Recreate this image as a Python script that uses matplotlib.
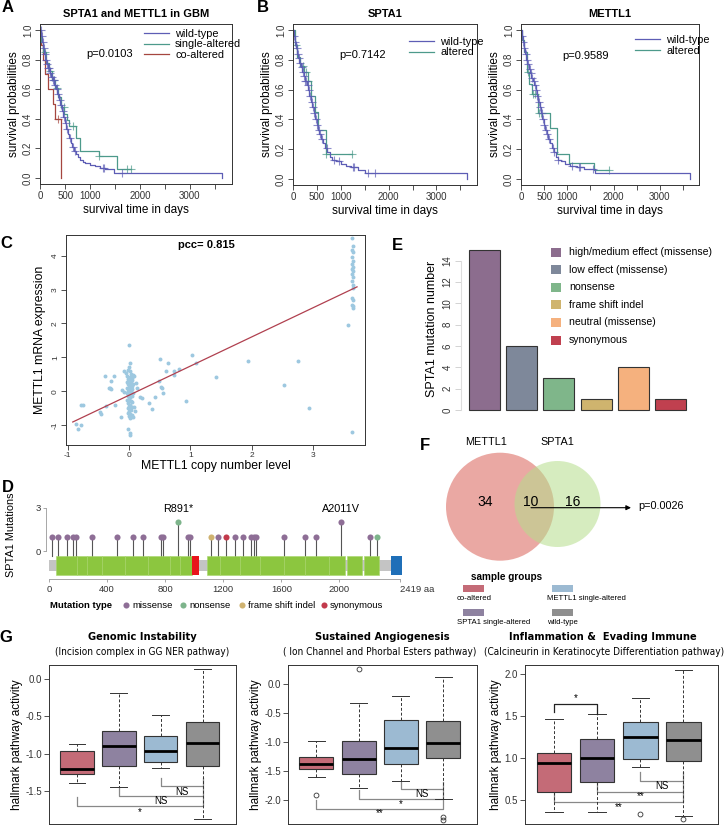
import matplotlib
matplotlib.use('Agg')
import matplotlib.pyplot as plt
import numpy as np
from matplotlib import font_manager
from matplotlib.patches import Rectangle, Circle
from matplotlib.lines import Line2D

plt.rcParams['font.family'] = ['Liberation Sans', 'DejaVu Sans']
plt.rcParams['axes.unicode_minus'] = False

# condensed font for panel G titles, if one is installed
_fonts = font_manager.fontManager.ttflist
if any(f.name == 'Liberation Sans Narrow' for f in _fonts):
    NARROW = dict(family=['Liberation Sans Narrow', 'DejaVu Sans'])
    G_SCALE = 1.0
elif any(f.name == 'DejaVu Sans' and f.stretch == 'condensed' for f in _fonts):
    NARROW = dict(family=['DejaVu Sans'], fontstretch='condensed')
    G_SCALE = 0.9
else:
    NARROW = dict(family=['Liberation Sans', 'DejaVu Sans'])
    G_SCALE = 0.8

# ---------------- data ----------------
# A: SPTA1 and METTL1 in GBM (Kaplan-Meier)
wt_a_t = [0, 20, 40, 60, 80, 100, 130, 160, 190, 220, 250, 280, 310, 340, 370, 400, 430, 460, 490, 520,
          550, 580, 610, 640, 680, 720, 760, 800, 850, 900, 1000, 1100, 1200, 1300, 1480, 3650]
wt_a_s = [1.0, 0.96, 0.92, 0.88, 0.84, 0.80, 0.77, 0.74, 0.71, 0.68, 0.66, 0.63, 0.60, 0.57, 0.53, 0.49,
          0.45, 0.41, 0.37, 0.33, 0.30, 0.27, 0.24, 0.21, 0.18, 0.16, 0.14, 0.12, 0.11, 0.10, 0.09, 0.08,
          0.07, 0.06, 0.035, 0.0]
wt_a_cens = [15, 35, 55, 75, 95, 115, 140, 165, 185, 205, 230, 255, 270, 295, 330, 360, 390, 420, 450,
             480, 510, 540, 600, 660, 700, 1250, 1280, 1640]
sa_a_t = [0, 25, 60, 110, 170, 230, 300, 360, 420, 480, 540, 580, 720, 800, 1180, 1540]
sa_a_s = [1.0, 0.92, 0.85, 0.78, 0.72, 0.66, 0.61, 0.55, 0.48, 0.43, 0.39, 0.35, 0.27, 0.18, 0.15, 0.06]
sa_a_end = 1820
sa_a_cens = [90, 200, 270, 330, 470, 650, 1180, 1750, 1820]
co_a_t = [0, 15, 50, 90, 160, 250, 300, 410]
co_a_s = [1.0, 0.9, 0.8, 0.7, 0.6, 0.5, 0.4, 0.0]
co_a_cens = [350]

# B: SPTA1
wt_b_t = [0, 20, 40, 60, 80, 100, 130, 160, 190, 220, 250, 280, 310, 340, 370, 400, 430, 460, 490, 520,
          550, 590, 630, 670, 710, 760, 820, 900, 1000, 1100, 1200, 1350, 1500, 3650]
wt_b_s = [1.0, 0.96, 0.92, 0.88, 0.84, 0.81, 0.78, 0.75, 0.72, 0.69, 0.66, 0.63, 0.60, 0.56, 0.52, 0.48,
          0.44, 0.40, 0.36, 0.33, 0.30, 0.27, 0.24, 0.21, 0.18, 0.15, 0.13, 0.12, 0.10, 0.09, 0.08, 0.06,
          0.04, 0.0]
wt_b_cens = [20, 45, 70, 90, 120, 150, 175, 200, 225, 250, 275, 300, 330, 360, 390, 410, 440, 470, 500,
             530, 560, 600, 700, 850, 950, 1250, 1270, 1560, 1720]
alt_b_t = [0, 30, 80, 150, 230, 300, 370, 450, 520, 680]
alt_b_s = [1.0, 0.9, 0.82, 0.76, 0.72, 0.66, 0.56, 0.45, 0.33, 0.17]
alt_b_end = 1230
alt_b_cens = [60, 200, 260, 300, 680, 1230]

# B: METTL1
wt_c_t = [0, 20, 40, 60, 80, 100, 130, 160, 190, 220, 250, 280, 310, 340, 370, 400, 430, 460, 490, 520,
          550, 580, 620, 660, 700, 750, 800, 860, 950, 1050, 1200, 1350, 1600, 3650]
wt_c_s = [1.0, 0.96, 0.92, 0.88, 0.84, 0.80, 0.77, 0.74, 0.71, 0.68, 0.66, 0.63, 0.60, 0.56, 0.52, 0.48,
          0.44, 0.40, 0.36, 0.33, 0.30, 0.27, 0.24, 0.21, 0.18, 0.15, 0.13, 0.12, 0.10, 0.09, 0.08, 0.07,
          0.04, 0.0]
wt_c_cens = [20, 45, 70, 95, 120, 150, 180, 210, 240, 270, 300, 320, 350, 380, 410, 440, 470, 500, 530,
             560, 600, 680, 720, 800, 1100, 1250, 1280, 1560]
alt_c_t = [0, 25, 70, 120, 160, 240, 360, 630, 770, 1040, 1580]
alt_c_s = [1.0, 0.93, 0.85, 0.72, 0.64, 0.57, 0.44, 0.34, 0.17, 0.11, 0.06]
alt_c_end = 1900
alt_c_cens = [150, 260, 300, 380, 420, 1900]

# C: copy number vs expression
cn_x = [-0.87, -0.84, -0.79, -0.78, -0.75, -0.48, -0.46, -0.40, -0.37, -0.33, -0.31, -0.30, -0.29, -0.24,
        -0.23, -0.14, -0.12, -0.08, 0.11, 0.13, 0.18, 0.21, 0.33, 0.38, 0.43, 0.48, 0.51, 0.52, 0.54, 0.55,
        0.60, 0.64, 0.74, 0.74, 0.81, 0.93, 1.03, 1.09, 1.42, 1.94, 2.52, 2.76, 2.94, 3.58, 3.63,
        0.0, 0.01, 0.0, -0.02, 0.02, -0.05, 0.03, 0.06, 0.08, -0.03, 0.01, 0.05, 0.0, -0.01, 0.04, 0.02,
        -0.04, 0.0, 0.03, 0.06, -0.02, 0.01, 0.04, 0.0, -0.03, 0.02, 0.05, 0.0, -0.01, 0.03, 0.06, -0.04,
        0.0, 0.02, -0.02, 0.04, 0.01, 0.0, -0.03, 0.03, 0.0, 0.05, -0.01, 0.02, 0.0, 0.04, -0.02, 0.01,
        0.03, 0.0, -0.01, 0.02, 0.05, 0.0, 0.03, 0.01, -0.01, 0.01, 0.02, 0.07, -0.08, 0.10, 0.08,
        3.64, 3.65, 3.63, 3.66, 3.64, 3.65, 3.63, 3.66, 3.64, 3.65, 3.63, 3.66, 3.64, 3.65, 3.66, 3.63,
        3.65, 3.64, 3.66, 3.65]
cn_y = [-0.97, -1.12, -1.0, -0.40, -0.42, -0.63, -0.66, 0.46, -0.43, 0.09, 0.10, 0.30, 0.07, 0.46,
        -0.41, -0.75, 0.02, 0.60, 0.23, 0.09, -0.16, -0.20, -0.34, -0.53, -0.16, 0.30, 0.94, 0.12, 0.08,
        -0.05, 0.60, 0.84, 0.60, 0.49, 0.64, -0.29, 1.08, 0.84, 0.42, 0.89, 0.18, 0.89, -0.49, 1.96, -1.20,
        1.37, 0.82, 0.72, 0.62, 0.60, 0.55, 0.50, 0.48, 0.46, 0.44, 0.42, 0.40, 0.38, 0.35, 0.33, 0.30,
        0.28, 0.26, 0.24, 0.22, 0.20, 0.18, 0.15, 0.12, 0.10, 0.08, 0.05, 0.03, 0.0, -0.02, -0.05, -0.06,
        -0.08, -0.10, -0.13, -0.15, -0.18, -0.22, -0.25, -0.28, -0.30, -0.33, -0.36, -0.40, -0.43, -0.46,
        -0.50, -0.53, -0.57, -0.60, -0.64, -0.67, -0.70, -0.73, -0.76, -0.80, -1.12, -1.25, -1.30, -0.75,
        -0.03, -0.60, -0.46,
        4.52, 4.30, 4.18, 4.10, 3.95, 3.85, 3.75, 3.68, 3.60, 3.55, 3.45, 3.38, 3.25, 3.12, 3.05, 2.75,
        2.68, 2.55, 2.50, 2.45]
fit_slope, fit_intercept = 0.86, -0.12
fit_range = [-0.92, 3.72]
pcc = 0.815

# D: SPTA1 lollipop
prot_len = 2419
green_domains = [(48, 191), (191, 260), (260, 363), (363, 524), (524, 685), (685, 834), (834, 903),
                 (903, 984), (1087, 1179), (1179, 1317), (1317, 1455), (1455, 1616), (1616, 1766),
                 (1766, 1926), (1926, 2041), (2053, 2156), (2168, 2271)]
red_domain = (984, 1034)
blue_domain = (2356, 2432)
mut_pos = [23, 64, 122, 168, 186, 294, 467, 575, 644, 772, 786, 891, 954, 968, 1117, 1161, 1218, 1278,
           1338, 1391, 1409, 1425, 1616, 1761, 1841, 2011, 2214, 2262]
mut_cnt = [1, 1, 1, 1, 1, 1, 1, 1, 1, 1, 1, 2, 1, 1, 1, 1, 1, 1, 1, 1, 1, 1, 1, 1, 1, 2, 1, 1]
mut_kind = ['missense'] * 11 + ['nonsense', 'missense', 'missense', 'frame shift indel', 'missense',
                                'synonymous'] + ['missense'] * 10 + ['nonsense']
kind_colors = {'missense': '#8E6E96', 'nonsense': '#7DB48B', 'frame shift indel': '#CFB270',
               'synonymous': '#C23A4C'}
mut_labels = {891: 'R891*', 2011: 'A2011V'}

# E: mutation classes
mut_types = ['high/medium effect (missense)', 'low effect (missense)', 'nonsense', 'frame shift indel',
             'neutral (missense)', 'synonymous']
mut_counts = [15, 6, 3, 1, 4, 1]
mut_colors = ['#8C6D8E', '#7E889A', '#7FB68A', '#CFB46E', '#F5B17E', '#C0404F']

# F: overlap
venn_only_mettl1, venn_both, venn_only_spta1 = 34, 10, 16
venn_p = 'p=0.0026'

# G: boxplots (whislo, q1, med, q3, whishi, fliers)
groups = ['co-altered', 'SPTA1 single-altered', 'METTL1 single-altered', 'wild-type']
group_colors = ['#C46B77', '#8E82A0', '#9CBAD2', '#8F8F8F']
g1_box = [(-1.40, -1.27, -1.21, -0.97, -0.87, []),
          (-1.45, -1.17, -0.90, -0.69, -0.19, []),
          (-1.19, -1.11, -0.96, -0.76, -0.48, []),
          (-1.88, -1.17, -0.86, -0.58, 0.135, [])]
g2_box = [(-1.61, -1.47, -1.385, -1.25, -0.976, [-1.92]),
          (-1.79, -1.55, -1.29, -0.985, -0.33, [0.26]),
          (-1.67, -1.385, -1.10, -0.62, -0.197, []),
          (-1.99, -1.27, -1.01, -0.63, 0.12, [-2.30, -2.34])]
g3_box = [(0.353, 0.59, 0.94, 1.06, 1.47, []),
          (0.36, 0.71, 0.997, 1.23, 1.52, []),
          (0.89, 0.985, 1.25, 1.43, 1.72, [0.33]),
          (0.31, 0.96, 1.21, 1.43, 2.05, [0.27])]
# significance brackets: (from, to, y_start, y_line, label, y_label)
g1_sig = [(3, 4, -1.33, -1.43, 'NS', -1.52), (2, 4, -1.45, -1.57, 'NS', -1.64),
          (1, 4, -1.58, -1.70, '*', -1.78)]
g2_sig = [(3, 4, -1.685, -1.81, 'NS', -1.90), (2, 4, -1.82, -1.99, '*', -2.07),
          (1, 4, -2.00, -2.16, '**', -2.23)]
g3_sig = [(3, 4, 0.84, 0.73, 'NS', 0.67), (2, 4, 0.70, 0.60, '**', 0.548),
          (1, 4, 0.58, 0.48, '**', 0.41)]
g3_top = (1, 2, 1.555, 1.645, '*', 1.72)

# ---------------- figure ----------------
W, H = 726, 826
fig = plt.figure(figsize=(W / 100, H / 100), dpi=100)


def px_ax(l, t, r, b):
    return fig.add_axes([l / W, 1 - b / H, (r - l) / W, (b - t) / H])


def ftext(x, y, s, **kw):
    fig.text(x / W, 1 - y / H, s, **kw)


def r_style(ax, size=7, rot=True):
    for sp in ax.spines.values():
        sp.set_linewidth(0.7)
        sp.set_color('#333333')
    ax.tick_params(direction='out', length=3.5, width=0.6, labelsize=size, pad=1.5, colors='#333333')
    if rot:
        ax.tick_params(axis='y', labelrotation=90)
        for lb in ax.get_yticklabels():
            lb.set_va('center')


C_WT, C_ALT, C_CO = '#5D5DB5', '#4D9A8B', '#A5463F'


def km(ax, t, s, end, cens, color):
    t = list(t)
    s = list(s)
    if end is not None:
        t.append(end)
        s.append(s[-1])
    ax.step(t, s, where='post', color=color, lw=0.9)
    ct = np.array(cens)
    idx = np.searchsorted(np.array(t), ct, side='right') - 1
    ax.plot(ct, np.array(s)[idx], '+', color=color, ms=5.5, mew=0.8, alpha=0.7)


km_specs = [
    ((40, 24, 232, 184), 'SPTA1 and METTL1 in GBM', 'p=0.0103',
     [(wt_a_t, wt_a_s, None, wt_a_cens, C_WT, 'wild-type'),
      (sa_a_t, sa_a_s, sa_a_end, sa_a_cens, C_ALT, 'single-altered'),
      (co_a_t, co_a_s, None, co_a_cens, C_CO, 'co-altered')], (0.54, 0.97), (0.36, 0.81)),
    ((293, 24, 477, 185), 'SPTA1', 'p=0.7142',
     [(wt_b_t, wt_b_s, None, wt_b_cens, C_WT, 'wild-type'),
      (alt_b_t, alt_b_s, alt_b_end, alt_b_cens, C_ALT, 'altered')], (0.63, 0.92), (0.38, 0.81)),
    ((521, 24, 699, 185), 'METTL1', 'p=0.9589',
     [(wt_c_t, wt_c_s, None, wt_c_cens, C_WT, 'wild-type'),
      (alt_c_t, alt_c_s, alt_c_end, alt_c_cens, C_ALT, 'altered')], (0.64, 0.93), (0.36, 0.80)),
]
for box, title, pv, curves, lpos, ppos in km_specs:
    ax = px_ax(*box)
    for t, s, end, cens, col, lab in curves[::-1]:
        km(ax, t, s, end, cens, col)
    ax.set_xlim(-5, 3850)
    ax.set_ylim(-0.04, 1.04)
    ax.set_xticks(np.arange(0, 3501, 500))
    ax.set_xticklabels(['0', '500', '1000', '', '2000', '', '3000', ''])
    ax.set_yticks(np.arange(0, 1.01, 0.2))
    ax.set_yticklabels(['0.0', '0.2', '0.4', '0.6', '0.8', '1.0'])
    r_style(ax, size=7)
    ax.set_xlabel('survival time in days', fontsize=8.5, labelpad=2)
    ax.set_ylabel('survival probabilities', fontsize=8.5, labelpad=2)
    ax.set_title(title, fontsize=8, fontweight='bold', pad=5)
    handles = [Line2D([], [], color=c[4], lw=0.9) for c in curves]
    ax.legend(handles, [c[5] for c in curves], loc='upper left', bbox_to_anchor=lpos, frameon=False,
              fontsize=7.8, handlelength=2.3, handletextpad=0.6, labelspacing=0.05, borderaxespad=0,
              borderpad=0)
    ax.text(ppos[0], ppos[1], pv, transform=ax.transAxes, ha='center', va='center', fontsize=8)

# ---- C ----
ax = px_ax(66, 235, 365, 445)
ax.scatter(cn_x, cn_y, s=8, color='#9DC8E0', lw=0, zorder=2)
fx = np.array(fit_range)
ax.plot(fx, fit_slope * fx + fit_intercept, color='#B0404F', lw=0.9, zorder=3)
ax.set_xlim(-1.03, 3.85)
ax.set_ylim(-1.59, 4.61)
ax.set_xticks([-1, 0, 1, 2, 3])
ax.set_yticks([-1, 0, 1, 2, 3, 4])
r_style(ax, size=6)
ax.set_xlabel('METTL1 copy number level', fontsize=8.8, labelpad=1)
ax.set_ylabel('METTL1 mRNA expression', fontsize=8.8, labelpad=4)
ax.text(0.47, 0.95, f'pcc= {pcc}', transform=ax.transAxes, ha='center', va='center',
        fontsize=8, fontweight='bold')

# ---- D ----
ax = px_ax(30, 495, 420, 600)
ax.set_xlim(-131, 2555)
ax.set_ylim(-3.4, 3.89)
ax.add_patch(Rectangle((0, -1.39), prot_len, 0.77, fc='#C4C4C4', ec='none', zorder=1))
for a, b in green_domains:
    ax.add_patch(Rectangle((a, -1.67), b - a, 1.32, fc='#8CC63F', ec='#A8D66A', lw=0.4, zorder=2))
ax.add_patch(Rectangle((red_domain[0], -1.67), red_domain[1] - red_domain[0], 1.32, fc='#E8141C',
                       ec='none', zorder=2))
ax.add_patch(Rectangle((blue_domain[0], -1.67), blue_domain[1] - blue_domain[0], 1.32, fc='#1F6FB8',
                       ec='none', zorder=2))
for p, c, k in zip(mut_pos, mut_cnt, mut_kind):
    ax.plot([p, p], [-0.35, c], color='#555555', lw=0.8, zorder=1.5)
    ax.plot(p, c, 'o', ms=4.4, color=kind_colors[k], mec='none', zorder=3)
    if p in mut_labels:
        ax.text(p, c + 0.55, mut_labels[p], ha='center', va='bottom', fontsize=7.8)
for sp in ['top', 'right']:
    ax.spines[sp].set_visible(False)
ax.spines['bottom'].set_position(('data', -1.94))
ax.spines['bottom'].set_bounds(0, prot_len)
ax.spines['left'].set_position(('data', -18))
ax.spines['left'].set_bounds(0, 3)
for sp in ['bottom', 'left']:
    ax.spines[sp].set_color('#999999')
    ax.spines[sp].set_linewidth(0.6)
ax.set_xticks([0, 400, 800, 1200, 1600, 2000, prot_len])
ax.set_xticklabels(['0', '400', '800', '1200', '1600', '2000', '2419 aa'])
ax.get_xticklabels()[-1].set_ha('left')
ax.set_yticks([0, 3])
ax.tick_params(direction='out', length=2.5, width=0.6, labelsize=6.8, pad=1.5, colors='#999999',
               labelcolor='#333333')
ax.set_ylabel('SPTA1 Mutations', fontsize=7.8, labelpad=2)
ax.yaxis.set_label_coords(-0.035, 0.62)
# legend row
ftext(50, 605, 'Mutation type', fontsize=6.8, fontweight='bold', va='center')
for xk, k in zip([126, 183, 242, 324], ['missense', 'nonsense', 'frame shift indel', 'synonymous']):
    fig.add_artist(Line2D([xk / W], [1 - 605 / H], marker='o', ms=4.4, color=kind_colors[k], mec='none',
                          transform=fig.transFigure))
    ftext(xk + 6, 605, k, fontsize=6.8, va='center')

# ---- E ----
ax = px_ax(455, 245, 692, 412)
bx = 0.7 + 1.2 * np.arange(len(mut_counts))
ax.bar(bx, mut_counts, width=1.0, color=mut_colors, edgecolor='#333333', linewidth=0.8)
ax.set_xlim(-0.25, 7.39)
ax.set_ylim(-0.19, 15.46)
for sp in ['top', 'right', 'bottom']:
    ax.spines[sp].set_visible(False)
ax.spines['left'].set_position(('data', -0.06))
ax.spines['left'].set_bounds(0, 14)
ax.spines['left'].set_color('#DDDDDD')
ax.set_xticks([])
ax.set_yticks(np.arange(0, 15, 2))
ax.tick_params(axis='y', direction='out', length=4, width=0.6, colors='#CCCCCC', labelcolor='#333333',
               labelsize=7, pad=2, labelrotation=90)
for lb in ax.get_yticklabels():
    lb.set_va('center')
ax.set_ylabel('SPTA1 mutation number', fontsize=9, labelpad=3)
for i, (lab, col) in enumerate(zip(mut_types, mut_colors)):
    yy = 252 + 17.6 * i
    fig.add_artist(Rectangle((551 / W, 1 - (yy + 4.5) / H), 10 / W, 9 / H, fc=col, ec='none',
                             transform=fig.transFigure))
    ftext(569, yy, lab, fontsize=7.6, va='center')

# ---- F ----
ax = px_ax(420, 430, 726, 630)
ax.set_xlim(420, 726)
ax.set_ylim(630, 430)
ax.axis('off')
ax.add_patch(Circle((500, 506.7), 54, fc='#E07A72', alpha=0.65, ec='none'))
ax.add_patch(Circle((557.5, 504), 43, fc='#B5DE8C', alpha=0.55, ec='none'))
ax.text(486, 441.7, 'METTL1', ha='center', va='center', fontsize=7.8)
ax.text(557, 441.7, 'SPTA1', ha='center', va='center', fontsize=7.8)
ax.text(485, 502, str(venn_only_mettl1), ha='center', va='center', fontsize=10)
ax.text(531, 502, str(venn_both), ha='center', va='center', fontsize=10)
ax.text(573, 502, str(venn_only_spta1), ha='center', va='center', fontsize=10)
ax.annotate('', xy=(631, 507.7), xytext=(531, 507.7),
            arrowprops=dict(arrowstyle='-|>', color='black', lw=0.8, mutation_scale=7,
                            shrinkA=0, shrinkB=0))
ax.text(638, 506, venn_p, ha='left', va='center', fontsize=7.8)
ax.text(507, 576.7, 'sample groups', ha='center', va='center', fontsize=7.2, fontweight='bold')
leg_pos = [(463, 588, 457, 599), (463, 612.5, 457, 623), (552, 588, 547, 599), (552, 612.5, 547, 623)]
for (px_, py_, tx, ty), lab, col in zip(leg_pos, groups, group_colors):
    ax.add_patch(Rectangle((px_, py_ - 3.5), 21, 7, fc=col, ec='none'))
    ax.text(tx, ty, lab, ha='left', va='center', fontsize=5.6)

# ---- G ----
g_specs = [
    ((49, 665, 236, 824), g1_box, g1_sig, None, (-1.946, 0.19), [-1.5, -1.0, -0.5, 0.0],
     'Genomic Instability', '(Incision complex in GG NER pathway)', 142, 142),
    ((288, 665, 477, 824), g2_box, g2_sig, None, (-2.417, 0.335), [-2.0, -1.5, -1.0, -0.5, 0.0],
     'Sustained Angiogenesis', '( Ion Channel and Phorbal Esters pathway)', 382, 380),
    ((525, 665, 718, 824), g3_box, g3_sig, g3_top, (0.214, 2.11), [0.5, 1.0, 1.5, 2.0],
     'Inflammation &  Evading Immune', '(Calcineurin in Keratinocyte Differentiation pathway)', 603, 604),
]
for box, bstats, sigs, top, ylim, yt, title, sub, tx, sx in g_specs:
    ax = px_ax(*box)
    stats = [dict(whislo=b[0], q1=b[1], med=b[2], q3=b[3], whishi=b[4], fliers=b[5]) for b in bstats]
    bp = ax.bxp(stats, positions=[1, 2, 3, 4], widths=0.8, capwidths=0.4, patch_artist=True,
                boxprops=dict(edgecolor='#333333', linewidth=0.8),
                whiskerprops=dict(color='#333333', linewidth=0.7, linestyle=(0, (3, 2))),
                capprops=dict(color='#333333', linewidth=0.7),
                medianprops=dict(color='black', linewidth=2.0),
                flierprops=dict(marker='o', mfc='none', mec='#333333', ms=3.5, mew=0.6))
    for patch, col in zip(bp['boxes'], group_colors):
        patch.set_facecolor(col)
    for x1, x2, ys, yl, lab, ylab in sigs:
        ax.plot([x1, x1, x2, x2], [ys, yl, yl, ys + 0.02 * (yl - ys)], color='#888888', lw=0.9, zorder=1)
        ax.text((x1 + x2) / 2, ylab, lab, ha='center', va='center', fontsize=7)
    if top:
        x1, x2, ys, yl, lab, ylab = top
        ax.plot([x1, x1, x2, x2], [ys, yl, yl, ys - 0.035], color='#222222', lw=0.9)
        ax.text((x1 + x2) / 2, ylab, lab, ha='center', va='center', fontsize=7)
    ax.set_xlim(0.33, 4.8)
    ax.set_ylim(*ylim)
    ax.set_xticks([])
    ax.set_yticks(yt)
    ax.set_yticklabels([f'{v:.1f}' for v in yt])
    r_style(ax, size=7, rot=False)
    ax.set_ylabel('hallmark pathway activity', fontsize=8.5, labelpad=2)
    ftext(tx, 637, title, ha='center', va='center', fontsize=8.8 * G_SCALE, fontweight='bold', **NARROW)
    ftext(sx, 652, sub, ha='center', va='center', fontsize=8.0 * G_SCALE, **NARROW)

# panel letters
for lab, x, y in [('A', 8, 8), ('B', 263, 8), ('C', 6, 243), ('D', 8, 487), ('E', 397, 246),
                  ('F', 425, 446), ('G', 6, 638)]:
    ftext(x, y, lab, fontsize=12, fontweight='bold', ha='center', va='center')

fig.savefig('out.png', dpi=100)
